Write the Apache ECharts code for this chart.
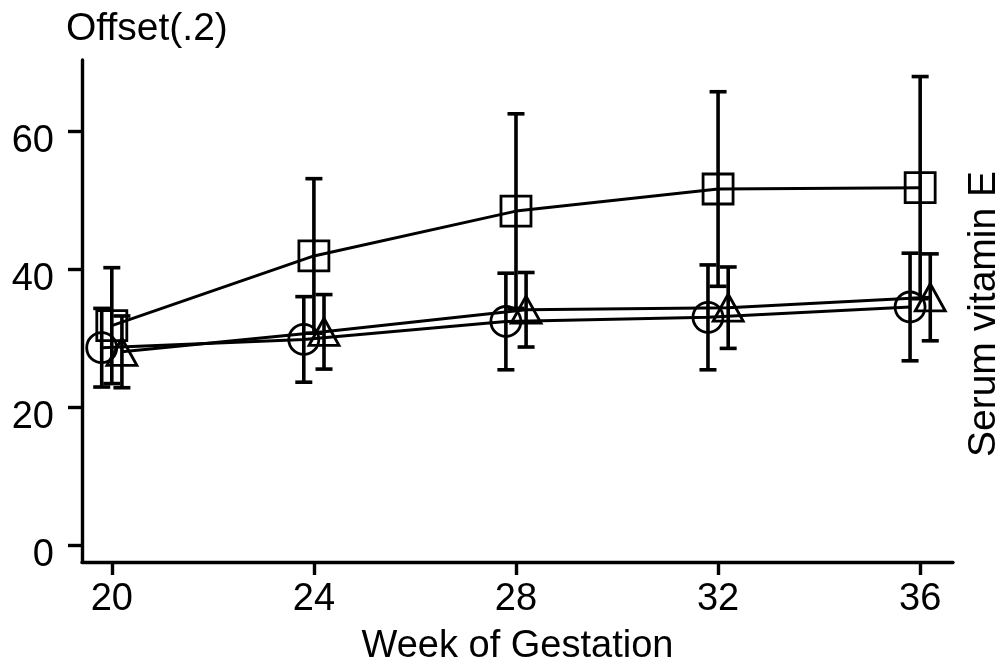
<!DOCTYPE html>
<html>
<head>
<meta charset="utf-8">
<script src="https://cdn.jsdelivr.net/npm/echarts@6/dist/echarts.min.js"></script>
<style>
  html, body { margin: 0; padding: 0; background: #fff; }
  #chart { width: 1002px; height: 670px; }
</style>
</head>
<body>
<div id="chart"></div>
<script>
const weeks = [20, 24, 28, 32, 36];
const OFFSET = 0.2;
const circleMean = [28.6, 29.8, 32.4, 33.0, 34.5];
const circleErr = [5.7, 6.2, 7.0, 7.6, 7.8];
const squareMean = [31.8, 41.9, 48.4, 51.6, 51.8];
const squareErr = [8.4, 11.2, 14.1, 14.1, 16.1];
const triangleMean = [28.0, 30.9, 34.1, 34.4, 35.9];
const triangleErr = [5.2, 5.4, 5.4, 5.9, 6.3];
const xTicks = [20, 24, 28, 32, 36];
const yTicks = [0, 20, 40, 60];

const FONT = "'Liberation Sans', Arial, sans-serif";

// positions of each group (circle left, square centre, triangle right)
const xCircle = weeks.map(w => w - OFFSET);
const xSquare = weeks.slice();
const xTriangle = weeks.map(w => w + OFFSET);

function lineSeries(name, xs, mean, symbol, size) {
  return {
    name: name,
    type: 'line',
    data: xs.map((x, i) => [x, mean[i]]),
    symbol: symbol,
    symbolSize: size,
    showSymbol: true,
    z: 2,
    lineStyle: { color: '#000', width: 3 },
    itemStyle: { color: 'rgba(0,0,0,0)', borderColor: '#000', borderWidth: 2.8 },
    emphasis: { disabled: true }
  };
}

function errorBars(name, xs, mean, err) {
  return {
    name: name + ' err',
    type: 'custom',
    silent: true,
    z: 3,
    data: xs.map((x, i) => [x, mean[i] - err[i], mean[i] + err[i]]),
    encode: { x: 0, y: [1, 2] },
    renderItem: function (params, api) {
      const lo = api.coord([api.value(0), api.value(1)]);
      const hi = api.coord([api.value(0), api.value(2)]);
      const w = 8.5;
      const st = { stroke: '#000', lineWidth: 3.6 };
      return {
        type: 'group',
        children: [
          { type: 'line', shape: { x1: lo[0], y1: lo[1], x2: hi[0], y2: hi[1] }, style: st },
          { type: 'line', shape: { x1: lo[0] - w, y1: lo[1], x2: lo[0] + w, y2: lo[1] }, style: st },
          { type: 'line', shape: { x1: hi[0] - w, y1: hi[1], x2: hi[0] + w, y2: hi[1] }, style: st }
        ]
      };
    }
  };
}

const chart = echarts.init(document.getElementById('chart'));
chart.setOption({
  animation: false,
  backgroundColor: '#fff',
  title: {
    text: 'Offset(.2)',
    left: 66,
    top: 10,
    padding: 0,
    textStyle: { fontFamily: FONT, fontSize: 39, fontWeight: 'normal', color: '#000' }
  },
  grid: { left: 82, right: 49, top: 60, bottom: 108, outerBoundsMode: 'none', containLabel: false },
  xAxis: {
    type: 'value',
    min: 19.41,
    max: 36.65,
    name: 'Week of Gestation',
    nameLocation: 'middle',
    nameGap: 66,
    nameTextStyle: { fontFamily: FONT, fontSize: 38, color: '#000' },
    axisLine: { show: true, onZero: false, lineStyle: { color: '#000', width: 3.4 } },
    axisTick: { show: true, length: 13, customValues: xTicks, lineStyle: { color: '#000', width: 3.4 } },
    axisLabel: { customValues: xTicks, margin: 19, fontFamily: FONT, fontSize: 38, color: '#000' },
    splitLine: { show: false }
  },
  yAxis: {
    type: 'value',
    min: -2.46,
    max: 70.3,
    axisLine: { show: true, onZero: false, lineStyle: { color: '#000', width: 3.4 } },
    axisTick: { show: true, length: 14, customValues: yTicks, lineStyle: { color: '#000', width: 3.4 } },
    axisLabel: {
      customValues: yTicks, margin: 28, fontFamily: FONT, fontSize: 38, color: '#000',
      verticalAlign: 'top', lineHeight: 20
    },
    splitLine: { show: false }
  },
  graphic: [{
    type: 'text',
    x: 984,
    y: 314,
    rotation: Math.PI / 2,
    style: {
      text: 'Serum vitamin E',
      fontFamily: FONT,
      fontSize: 39,
      fill: '#000',
      align: 'center',
      verticalAlign: 'middle'
    }
  }],
  series: [
    lineSeries('circle', xCircle, circleMean, 'circle', 30),
    lineSeries('square', xSquare, squareMean, 'rect', 30),
    lineSeries('triangle', xTriangle, triangleMean, 'triangle', [30, 27]),
    errorBars('circle', xCircle, circleMean, circleErr),
    errorBars('square', xSquare, squareMean, squareErr),
    errorBars('triangle', xTriangle, triangleMean, triangleErr)
  ]
});
</script>
</body>
</html>
